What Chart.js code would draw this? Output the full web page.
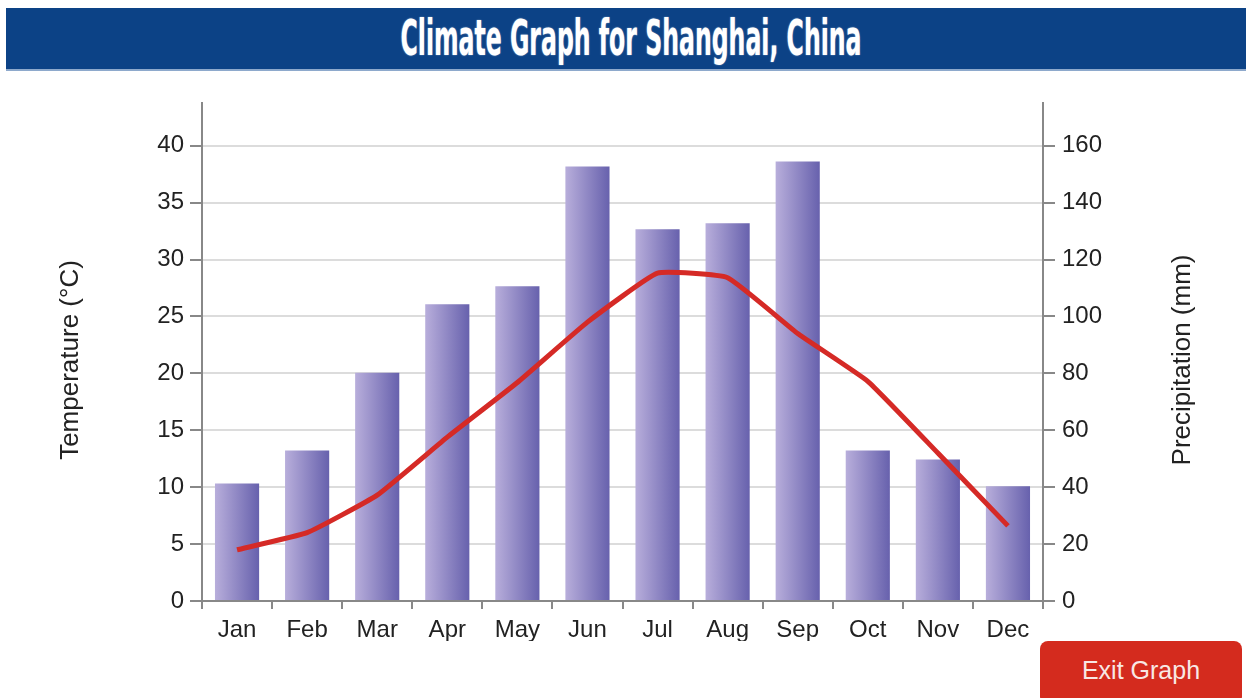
<!DOCTYPE html>
<html>
<head>
<meta charset="utf-8">
<script src="https://cdn.jsdelivr.net/npm/chart.js@4"></script>
<style>
  body { margin: 0; width: 1252px; height: 698px; background: #fff; overflow: hidden; position: relative; font-family: "Liberation Sans", Arial, sans-serif; }
  #banner { position: absolute; left: 6px; top: 8px; width: 1240px; height: 61px; background: #0c4286; border-bottom: 2px solid #8ea9cc; }
  #title { position: absolute; top: 14px; left: 631px; white-space: nowrap; color: #fff; font-family: "DejaVu Sans Condensed", "DejaVu Sans", sans-serif; font-weight: bold; font-size: 49px; line-height: 49px; text-shadow: 0 0 2px rgba(255,255,255,0.6); transform-origin: 0 0; }
  #wrap { position: absolute; left: 0; top: 80px; width: 1252px; height: 580px; }
  #exit { position: absolute; left: 1040px; top: 641px; width: 202px; height: 64px; background: #d42b1e; border-radius: 8px; color: #f8e8e5; font-size: 25px; text-align: center; line-height: 58px; }
</style>
</head>
<body>
<div id="banner"></div>
<span id="title">Climate Graph for Shanghai, China</span>
<div id="wrap"><canvas id="climateChart"></canvas></div>
<div id="exit">Exit Graph</div>
<script>
const months = ["Jan", "Feb", "Mar", "Apr", "May", "Jun", "Jul", "Aug", "Sep", "Oct", "Nov", "Dec"];
const precipitation = [41.3, 52.9, 80.2, 104.3, 110.6, 152.7, 130.6, 132.7, 154.4, 52.9, 49.7, 40.3];
const temperature = [4.5, 6.0, 9.3, 14.4, 19.2, 24.5, 28.8, 28.4, 23.5, 19.3, 13.0, 6.6];

// squeeze the banner title into the narrow width of the original
const titleEl = document.getElementById('title');
const titleW = titleEl.getBoundingClientRect().width;
const sx = 461 / titleW;
titleEl.style.transform = `translateX(${-230.5}px) scaleX(${sx})`;

const ctx = document.getElementById('climateChart').getContext('2d');
const barPct = 0.63;

function barFill(c) {
  if (c.type !== 'data') return '#8f86c4';
  const xs = c.chart.scales.x;
  if (!xs || !xs.width) return '#8f86c4';
  const cx = xs.getPixelForValue(c.dataIndex);
  const w = xs.width / months.length * barPct;
  const g = c.chart.ctx.createLinearGradient(cx - w / 2, 0, cx + w / 2, 0);
  g.addColorStop(0, '#b8aedb');
  g.addColorStop(1, '#6761ad');
  return g;
}

// both axis titles read bottom-to-top, so draw them by hand
const axisTitles = {
  id: 'axisTitles',
  afterDraw(chart) {
    const c = chart.ctx;
    c.save();
    c.font = '26px "Liberation Sans", Arial, sans-serif';
    c.fillStyle = '#222';
    c.textAlign = 'center';
    c.textBaseline = 'middle';
    const cy = 280;
    [[70.5, 'Temperature (°C)'], [1183, 'Precipitation (mm)']].forEach(([x, t]) => {
      c.save();
      c.translate(x, cy);
      c.rotate(-Math.PI / 2);
      c.fillText(t, 0, 0);
      c.restore();
    });
    c.restore();
  }
};

const tickFont = { family: '"Liberation Sans", Arial, sans-serif', size: 24 };

new Chart(ctx, {
  type: 'bar',
  data: {
    labels: months,
    datasets: [{
      type: 'bar',
      label: 'Precipitation',
      data: precipitation,
      yAxisID: 'yP',
      backgroundColor: barFill,
      categoryPercentage: 1,
      barPercentage: barPct,
      order: 1
    }, {
      type: 'line',
      label: 'Temperature',
      data: temperature,
      yAxisID: 'yT',
      borderColor: '#d52a26',
      borderWidth: 5,
      pointRadius: 0,
      tension: 0.12,
      order: 0
    }]
  },
  options: {
    responsive: true,
    maintainAspectRatio: false,
    animation: false,
    layout: { padding: { left: 0, right: 0, top: 23, bottom: 19 } },
    plugins: { legend: { display: false }, tooltip: { enabled: false } },
    scales: {
      x: {
        offset: true,
        grid: { offset: true, drawOnChartArea: false, tickLength: 8, tickColor: '#888', lineWidth: 2 },
        border: { color: '#888', width: 2 },
        ticks: { color: '#222', font: tickFont, padding: 7 },
        afterFit(scale) { scale.height = 40; }
      },
      yT: {
        position: 'left',
        min: 0,
        max: 43.75,
        grid: { color: '#dcdcdc', lineWidth: 2, tickLength: 12, tickColor: '#888' },
        border: { color: '#888', width: 2 },
        ticks: { stepSize: 5, includeBounds: false, color: '#222', font: tickFont, padding: 6 },
        afterFit(scale) { scale.width = 202; }
      },
      yP: {
        position: 'right',
        min: 0,
        max: 175,
        grid: { drawOnChartArea: false, lineWidth: 2, tickLength: 12, tickColor: '#888' },
        border: { color: '#888', width: 2 },
        ticks: { stepSize: 20, includeBounds: false, color: '#222', font: tickFont, padding: 7 },
        afterFit(scale) { scale.width = 209; }
      }
    }
  },
  plugins: [axisTitles]
});
</script>
</body>
</html>
